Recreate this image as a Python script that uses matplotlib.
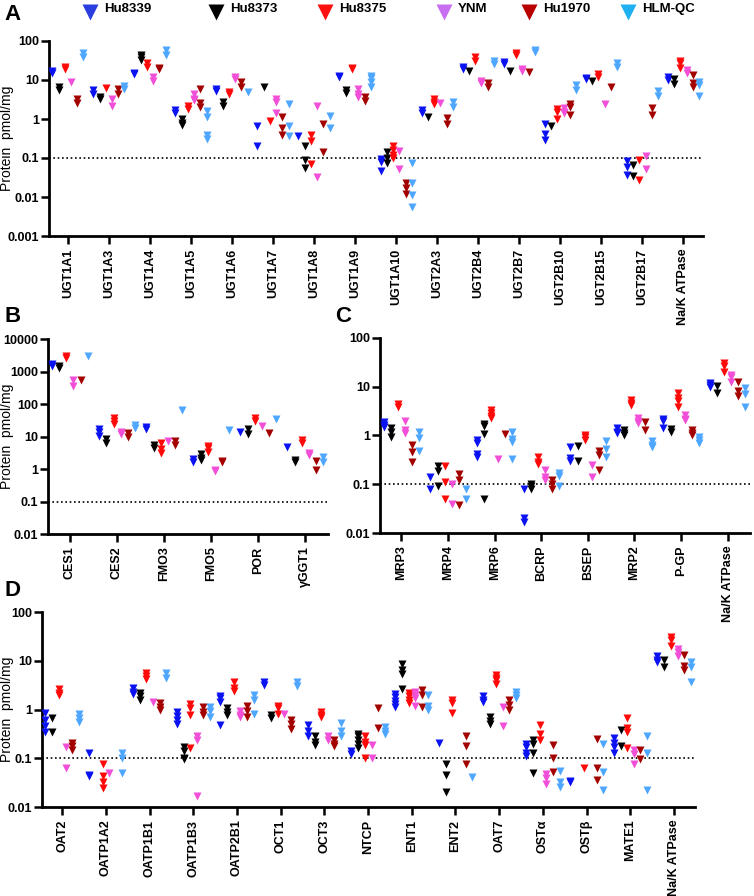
import matplotlib
matplotlib.use('Agg')
import matplotlib.pyplot as plt
from matplotlib.lines import Line2D
from matplotlib.ticker import FixedLocator, NullLocator, FuncFormatter
from matplotlib.transforms import blended_transform_factory

plt.rcParams['font.family'] = ['Liberation Sans', 'DejaVu Sans']

DONORS = ['Hu8339', 'Hu8373', 'Hu8375', 'YNM', 'Hu1970', 'HLM-QC']

# ---- panel A: UGTs ----
A_CATS = ['UGT1A1', 'UGT1A3', 'UGT1A4', 'UGT1A5', 'UGT1A6', 'UGT1A7', 'UGT1A8', 'UGT1A9',
          'UGT1A10', 'UGT2A3', 'UGT2B4', 'UGT2B7', 'UGT2B10', 'UGT2B15', 'UGT2B17', 'Na/K ATPase']
A_HU8339 = [[17, 15.5], [5.5, 4.5], [15, 14], [1.7, 1.4], [5.8, 5.2], [0.67, 0.2], [0.37], [13, 12],
            [0.095, 0.08, 0.046], [1.7, 1.45], [22, 19], [29, 25], [0.75, 0.41, 0.29], [11.3, 10.5],
            [0.082, 0.058, 0.037], [12, 10]]
A_HU8373 = [[6.5, 5.5], [3.7, 3.2], [44, 38, 32], [1.0, 0.8, 0.7], [2.8, 2.2], [6.5], [0.2, 0.09, 0.055],
            [5.7, 4.7], [0.14, 0.1, 0.075], [1.15], [17], [17], [0.67], [9.2], [0.065, 0.035], [10.6, 7.7]]
A_HU8375 = [[21, 19], [6.1], [28, 22], [2.2, 1.8], [5, 4.4], [0.9], [0.38, 0.27, 0.07], [20, 19],
            [0.2, 0.16, 0.12, 0.1], [3.3, 2.7, 2.4], [38, 31], [48, 44], [1.8, 1.55, 1.0], [14, 12.2],
            [0.089, 0.027], [31, 27, 20]]
A_YNM = [[9], [3.2, 2.2], [12, 9.5], [4.3, 3.3, 3], [12, 10.8], [3.2, 2.7, 1.4], [2.1, 0.033],
         [6, 4.5, 3.7], [0.15, 0.051], [2.5], [9.2, 8.4], [19, 17], [1.9, 1.55, 1.4], [2.4],
         [0.11, 0.053], [18, 15]]
A_HU1970 = [[3.3, 2.6], [6, 4.5], [20, 19], [5.9, 2.5, 2], [8.7, 6.8], [1.1, 0.6, 0.4], [0.75, 0.14],
            [3.7, 2.9], [0.023, 0.017, 0.012], [1.05, 0.73], [8.5, 6.5], [16], [2.4, 2.0, 1.26], [6.5],
            [1.9, 1.26], [13.4, 8.5, 6.5]]
A_HLMQC = [[48, 38], [7, 6], [58, 44], [1.6, 1.1, 0.4, 0.3], [4.8], [2.4, 0.65, 0.36], [1.2, 0.6],
           [13, 11, 9, 6.8], [0.075, 0.023, 0.011, 0.0055], [2.7, 2.0], [31, 26], [59, 51], [7.4, 5.5],
           [27, 21], [5.3, 3.9], [9, 7.4, 3.9]]

# ---- panel B: other enzymes ----
B_CATS = ['CES1', 'CES2', 'FMO3', 'FMO5', 'POR', 'γGGT1']
B_HU8339 = [[1750, 1500], [17, 13.5, 10.7], [20, 17], [2, 1.6], [14], [4.6]]
B_HU8373 = [[1430, 1280], [8.5, 6.5], [5.3, 4.5], [2.8, 2.2, 1.9], [17, 12], [1.9, 1.6]]
B_HU8375 = [[3000, 2600], [37, 30, 25], [6.2, 4, 3.2], [5.1, 4.4, 3.4], [36, 29], [8, 6.4]]
B_YNM = [[530, 360], [14, 12], [7.5], [0.95, 0.85], [21], [3.2, 2.7]]
B_HU1970 = [[560], [13, 10], [7.4, 5.3], [1.8, 1.6], [13], [1.8, 0.95]]
B_HLMQC = [[3050], [23, 18], [66], [16], [34], [2.3, 1.6]]

# ---- panel C: efflux transporters ----
C_CATS = ['MRP3', 'MRP4', 'MRP6', 'BCRP', 'BSEP', 'MRP2', 'P-GP', 'Na/K ATPase']
C_HU8339 = [[1.85, 1.66, 1.5], [0.14, 0.08], [0.8, 0.7, 0.42, 0.37], [0.08, 0.02, 0.017],
            [0.57, 0.34, 0.3], [1.4, 1.2, 1.1], [2.2, 1.95, 1.4], [11.9, 10.7, 9.7]]
C_HU8373 = [[1.4, 1.2, 0.95], [0.24, 0.19, 0.09], [1.7, 1.55, 1.05, 0.05], [0.1, 0.09, 0.08],
            [0.6, 0.3], [1.3, 1.1, 1.0], [1.35, 1.2], [10.2, 7.4]]
C_HU8375 = [[4.4, 3.9], [0.24, 0.11, 0.05], [3.3, 2.9, 2.5, 2.3], [0.37, 0.29, 0.26], [1.0, 0.93, 0.8],
            [5.4, 4.6, 4.3], [7.4, 5.8, 5.2, 3.9], [30.6, 27, 19.7]]
C_YNM = [[2, 1.3, 1.1], [0.1, 0.04], [0.33], [0.2, 0.14, 0.12], [0.25, 0.14], [2.3, 1.95, 1.8],
         [2.6, 2.2, 2.1], [17.6, 15.8, 12.8]]
C_HU1970 = [[0.65, 0.46, 0.29], [0.16, 0.12, 0.037], [1.05], [0.12, 0.1, 0.08], [0.47, 0.39, 0.2],
            [1.9, 1.3], [1.3, 1.15, 1.0], [12.8, 8, 6.5]]
C_HLMQC = [[1.17, 0.87, 0.49], [0.08, 0.05], [1.2, 0.85, 0.73, 0.33], [0.17, 0.15, 0.09],
           [0.78, 0.53, 0.37], [0.76, 0.64, 0.57], [0.95, 0.8, 0.7], [9.4, 7.1, 3.8]]

# ---- panel D: uptake transporters ----
D_CATS = ['OAT2', 'OATP1A2', 'OATP1B1', 'OATP1B3', 'OATP2B1', 'OCT1', 'OCT3', 'NTCP', 'ENT1',
          'ENT2', 'OAT7', 'OSTα', 'OSTβ', 'MATE1', 'Na/K ATPase']
D_HU8339 = [[0.86, 0.62, 0.46, 0.34], [0.13, 0.046, 0.043], [2.7, 2.3, 2.1], [0.9, 0.75, 0.6, 0.5],
            [1.9, 1.7, 1.4, 0.47], [3.7, 3.2], [0.48, 0.36, 0.28], [0.14, 0.12],
            [2.07, 1.77, 1.5, 1.3, 1.14], [0.21], [1.9, 1.6, 1.45], [0.2, 0.17, 0.13, 0.11],
            [0.034, 0.032], [0.26, 0.21, 0.17, 0.13], [12.3, 10.6, 9.5]]
D_HU8373 = [[0.66, 0.34], [], [2.2, 1.9, 1.6], [0.17, 0.14, 0.1, 0.097], [1.05, 0.9, 0.78], [0.78, 0.66],
            [0.28, 0.22, 0.19], [0.32, 0.28, 0.24, 0.2, 0.16], [8.5, 6.6, 5.3, 2.6], [0.075, 0.046, 0.02],
            [0.71, 0.59, 0.5], [0.24, 0.2, 0.13, 0.051], [], [0.38, 0.18], [10.2, 7.3]]
D_HU8375 = [[2.6, 2.2, 2.0], [0.075, 0.043, 0.032, 0.025], [5.5, 4.8, 4.3], [1.3, 1.05, 0.78, 0.16],
            [3.7, 2.7, 2.4], [1.2, 1.05, 0.8], [0.9, 0.78, 0.7], [0.29, 0.22, 0.19, 0.1],
            [2.2, 1.9, 1.6, 1.33], [1.55, 1.37, 0.83], [5.2, 4.5, 4.0, 3.4], [0.48, 0.31, 0.24], [0.062],
            [0.66, 0.41, 0.34, 0.16], [30.6, 27, 19.9]]
D_YNM = [[0.17, 0.063], [0.049], [1.4], [0.28, 0.24, 0.017], [0.95, 0.78, 0.7], [0.8], [0.29, 0.24],
         [0.19, 0.1], [2.3, 2.0, 1.7, 1.18], [], [1.1, 0.46], [0.047, 0.039, 0.03], [],
         [0.15, 0.12, 0.077], [17.8, 15.2, 12.3]]
D_HU1970 = [[0.21, 0.18, 0.15], [], [1.35, 1.1, 1.0], [1.1, 0.9, 0.78], [1.2, 0.95, 0.7], [0.6, 0.5, 0.4],
            [0.24, 0.2, 0.18], [1.05, 0.41], [2.5, 2.0, 1.14], [0.28, 0.18, 0.077], [1.55, 1.23, 0.97],
            [0.19, 0.1, 0.053], [0.25, 0.062, 0.035], [0.15, 0.095], [13.0, 7.7, 6.4]]
D_HLMQC = [[0.8, 0.66, 0.56], [0.13, 0.1, 0.049], [5.5, 4.5], [1.1, 0.95, 0.7], [2.0, 1.55, 0.8],
           [3.6, 3.1], [0.52, 0.37, 0.29], [0.43, 0.37, 0.32], [2.0, 1.2, 1.0], [0.042], [2.3, 2.0, 1.7],
           [0.055, 0.033, 0.026], [0.2, 0.052, 0.022], [0.28, 0.13, 0.022], [9.5, 7.5, 3.7]]

# styling
POINT_COLORS = ['#0a12f2', '#000000', '#ff0808', '#f24fd8', '#a30000', '#4ea6ff']
LEGEND_COLORS = ['#2a3ee0', '#000000', '#ff1010', '#c86ef0', '#b80000', '#1eb0f0']
OFFSETS = [-0.38, -0.22, -0.07, 0.08, 0.23, 0.38]
W, H = 754, 896


def px_axes(fig, left, top, right, bottom):
    return fig.add_axes([left / W, 1 - bottom / H, (right - left) / W, (bottom - top) / H])


def draw_panel(ax, cats, series, ylim, yticks, ylabel=True):
    for k, vals in enumerate(series):
        xs, ys = [], []
        for i, group in enumerate(vals):
            xs += [i + OFFSETS[k]] * len(group)
            ys += group
        ax.plot(xs, ys, 'v', ls='none', ms=5.5, color=POINT_COLORS[k], mec='none', zorder=3)
    ax.set_yscale('log')
    ax.set_ylim(*ylim)
    ax.set_xlim(-0.46, len(cats) - 0.52)
    ax.axhline(0.1, color='black', ls=(0, (1, 1.6)), lw=1.2, zorder=2)
    ax.yaxis.set_major_locator(FixedLocator(yticks))
    ax.yaxis.set_minor_locator(NullLocator())
    ax.yaxis.set_major_formatter(FuncFormatter(lambda v, p: '%g' % v))
    ax.set_xticks(range(len(cats)))
    ax.set_xticklabels(cats, rotation=90, fontweight='bold', fontsize=9)
    for lbl in ax.get_yticklabels():
        lbl.set_fontweight('bold')
    ax.tick_params(axis='both', direction='out', length=6, width=1.8, labelsize=9)
    ax.tick_params(axis='y', pad=1)
    ax.tick_params(axis='x', pad=3)
    for s in ['top', 'right']:
        ax.spines[s].set_visible(False)
    for s in ['left', 'bottom']:
        ax.spines[s].set_linewidth(2)
    if ylabel:
        ax.set_ylabel('Protein  pmol/mg', fontsize=10)
        ax.yaxis.set_label_coords(14 / W, 0.5,
                                  transform=blended_transform_factory(fig.transFigure, ax.transAxes))


fig = plt.figure(figsize=(W / 100, H / 100), dpi=100)

ax_a = px_axes(fig, 49, 41, 703, 236)
draw_panel(ax_a, A_CATS, [A_HU8339, A_HU8373, A_HU8375, A_YNM, A_HU1970, A_HLMQC],
           (0.001, 100), [0.001, 0.01, 0.1, 1, 10, 100])

ax_b = px_axes(fig, 48, 339, 328, 534)
draw_panel(ax_b, B_CATS, [B_HU8339, B_HU8373, B_HU8375, B_YNM, B_HU1970, B_HLMQC],
           (0.01, 10000), [0.01, 0.1, 1, 10, 100, 1000, 10000])

ax_c = px_axes(fig, 380, 338, 750, 533)
draw_panel(ax_c, C_CATS, [C_HU8339, C_HU8373, C_HU8375, C_YNM, C_HU1970, C_HLMQC],
           (0.01, 100), [0.01, 0.1, 1, 10, 100], ylabel=False)

ax_d = px_axes(fig, 42, 612, 695, 807)
draw_panel(ax_d, D_CATS, [D_HU8339, D_HU8373, D_HU8375, D_YNM, D_HU1970, D_HLMQC],
           (0.01, 100), [0.01, 0.1, 1, 10, 100])

# panel letters
for letter, (x, y) in zip('ABCD', [(4, 4), (4, 306), (335, 306), (4, 580)]):
    fig.text(x / W, 1 - y / H, letter, fontsize=16, fontweight='bold', ha='left', va='top')

# legend row at the top
marker_x = [90, 216, 325, 444, 529, 628]
for name, col, mx in zip(DONORS, LEGEND_COLORS, marker_x):
    fig.add_artist(Line2D([mx / W], [1 - 12 / H], marker='v', ms=11, color=col, mec='none',
                          ls='none', transform=fig.transFigure))
    fig.text((mx + 14) / W, 1 - 9 / H, name, fontsize=9.5, fontweight='bold', ha='left', va='center')

fig.savefig('out.png', dpi=100)
